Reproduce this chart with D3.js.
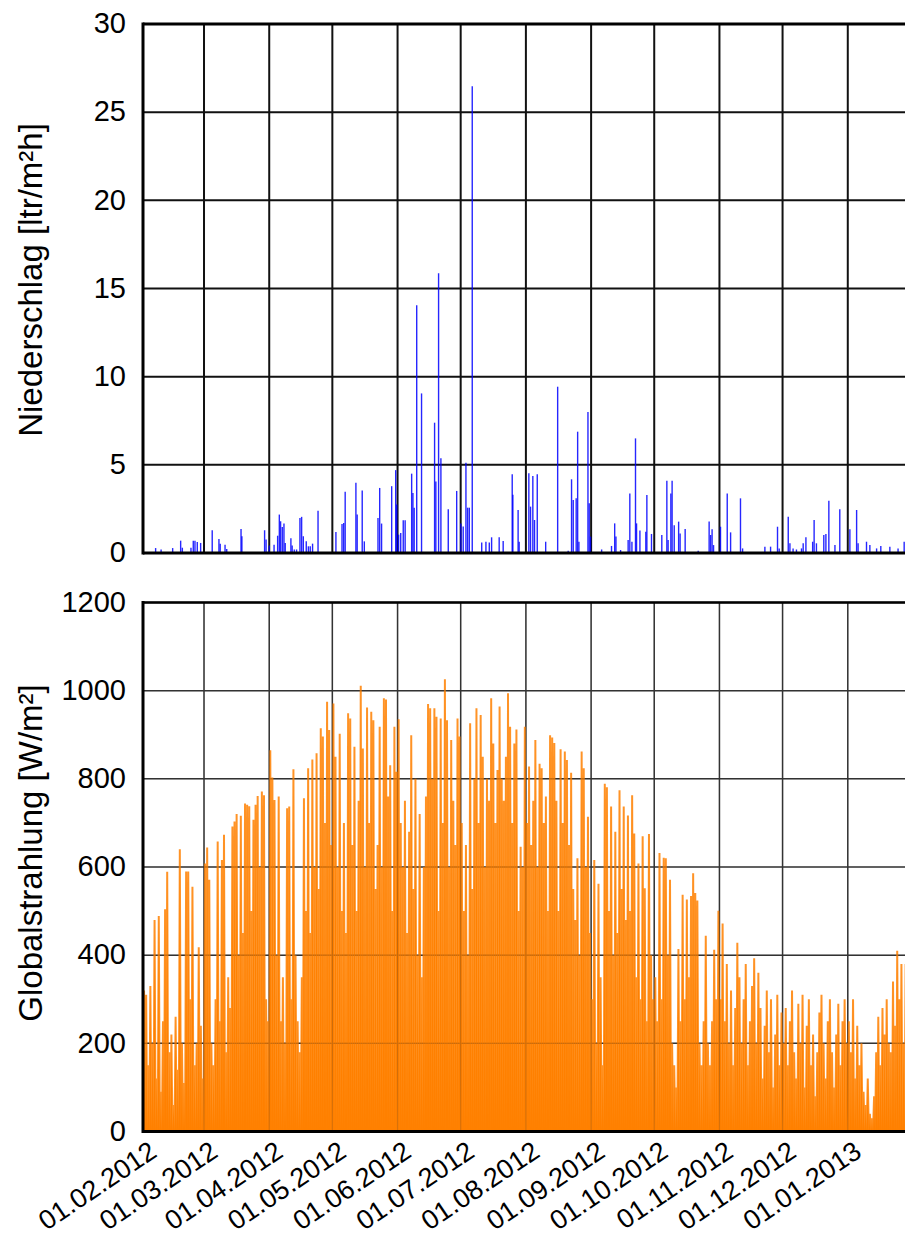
<!DOCTYPE html>
<meta charset="utf-8">
<style>
  body { margin: 0; background: #fff; }
  svg text { font-family: "Liberation Sans", Arial, sans-serif; fill: #000; }
</style>
<body>
<svg id="chart" width="905" height="1240"></svg>
<script src="https://d3js.org/d3.v7.min.js"></script>
<script>
// --- precipitation events: day offset from 01.02.2012, value in ltr/m²h
const precipDay = [6.0, 8.6, 14.1, 17.9, 18.7, 22.8, 23.9, 24.7, 25.8, 27.4, 32.9, 36.1, 36.7, 39.0, 39.8,
  46.6, 47.0, 57.8, 58.5, 60.0, 62.3, 64.0, 64.8, 65.4, 66.2, 67.0, 67.6, 70.3, 70.9, 71.9, 73.0,
  74.6, 75.4, 76.2, 77.6, 78.6, 79.5, 80.6, 83.2, 91.7, 94.6, 95.4, 96.1, 101.2, 101.8, 104.2, 105.2,
  111.7, 112.5, 113.4, 118.2, 120.1, 120.6, 121.5, 122.5, 123.7, 124.6, 127.7, 128.3, 128.9, 130.1,
  132.4, 138.6, 139.2, 140.5, 141.6, 145.1, 149.1, 151.1, 152.2, 153.5, 154.3, 155.1, 156.5, 161.0,
  163.0, 164.6, 165.7, 169.3, 171.2, 175.5, 175.8, 178.3, 178.8, 183.4, 184.2, 185.3, 186.1, 187.4,
  191.4, 197.1, 202.1, 203.7, 204.5, 205.9, 206.6, 207.2, 211.5, 212.1, 212.7, 218.0, 222.7, 224.2,
  224.8, 227.0, 230.6, 231.4, 232.4, 234.1, 234.6, 236.2, 239.0, 239.5, 241.7, 246.6, 249.0, 249.6,
  250.9, 251.5, 252.5, 254.6, 255.3, 257.7, 263.9, 269.1, 269.8, 270.5, 271.2, 274.5, 277.7, 279.3,
  284.0, 285.0, 295.6, 298.3, 301.6, 302.4, 306.7, 307.5, 309.0, 310.6, 313.0, 313.8, 315.1, 318.3,
  319.0, 320.1, 323.6, 324.6, 326.0, 328.9, 331.2, 336.0, 339.2, 339.9, 343.9, 345.5, 348.7, 350.7,
  355.0, 358.9, 361.8];
const precipValue = [0.28, 0.2, 0.28, 0.7, 0.3, 0.3, 0.7, 0.7, 0.62, 0.57, 1.29, 0.8, 0.53, 0.47, 0.23,
  1.36, 0.95, 1.29, 0.76, 0.42, 0.47, 0.98, 2.18, 1.8, 1.48, 1.67, 0.57, 0.83, 0.42, 0.2, 0.2,
  1.99, 2.05, 0.95, 0.66, 0.38, 0.38, 0.53, 2.39, 1.19, 1.65, 1.7, 3.47, 3.98, 2.18, 3.54, 0.66,
  1.99, 3.69, 1.67, 3.79, 4.7, 2.75, 1.04, 1.14, 1.86, 1.86, 4.5, 3.4, 2.56, 14.05,
  9.05, 7.39, 4.05, 15.87, 5.37, 2.48, 3.52, 1.68, 1.5, 5.12, 2.57, 2.57, 26.47, 0.59,
  0.64, 0.59, 0.89, 0.89, 0.68, 4.46, 3.3, 2.44, 0.64, 4.52, 2.63, 4.37, 1.87, 4.46,
  0.64, 9.43, 0.13, 4.18, 3.0, 3.1, 6.88, 0.64, 8.0, 2.82, 0.93, 0.2, 0.4, 1.68,
  0.93, 0.17, 0.74, 3.38, 0.64, 6.5, 1.68, 1.27, 1.21, 3.29, 1.08, 1.02, 4.1, 0.74,
  3.38, 4.1, 1.57, 1.78, 1.1, 1.36, 0.13, 1.78, 1.02, 1.34, 0.45, 1.49, 3.38, 1.17,
  3.1, 0.26, 0.36, 0.36, 1.49, 0.26, 2.06, 0.55, 0.26, 0.2, 0.26, 0.55, 0.89, 0.64,
  1.87, 0.55, 1.02, 1.08, 2.97, 0.45, 2.48, 1.34, 2.44, 0.55, 0.64, 0.45, 0.26, 0.4,
  0.36, 0.26, 0.64];

// --- daily peak of global radiation (W/m²), one value per day, by month
const radFeb = [320, 310, 150, 330, 200, 480, 120, 489, 90, 250, 504, 589, 180, 220, 60, 260, 140, 640, 200, 110,
  590, 590, 300, 555, 150, 200, 418, 240, 120];
const radMar = [608, 644, 571, 200, 150, 300, 658, 250, 616, 673, 180, 350, 280, 692, 703, 720, 400, 716, 450, 744,
  741, 738, 500, 707, 741, 761, 600, 771, 763, 300, 250];
const radApr = [865, 803, 752, 400, 760, 250, 350, 200, 733, 737, 300, 822, 400, 250, 180, 350, 756, 500, 824, 450,
  844, 600, 858, 550, 915, 896, 700, 975, 911, 650];
const radMay = [971, 850, 600, 902, 500, 700, 450, 949, 937, 650, 873, 500, 750, 1011, 869, 600, 962, 700, 952, 933,
  550, 650, 918, 600, 983, 980, 760, 831, 500, 918, 816];
const radJun = [935, 700, 600, 750, 450, 680, 899, 550, 800, 400, 720, 350, 600, 760, 970, 960, 800, 960, 941, 500,
  937, 700, 1026, 933, 600, 888, 750, 650, 937, 896];
const radJul = [700, 500, 650, 400, 926, 550, 800, 960, 700, 945, 850, 600, 800, 750, 983, 880, 700, 820, 964, 800,
  750, 850, 994, 918, 700, 880, 912, 500, 646, 600, 918];
const radAug = [700, 828, 650, 750, 888, 600, 834, 824, 700, 760, 500, 899, 894, 881, 750, 500, 867, 700, 862, 843,
  650, 814, 550, 480, 620, 400, 862, 824, 600, 714, 450];
const radSep = [300, 616, 200, 562, 350, 150, 789, 781, 500, 737, 400, 680, 450, 774, 550, 737, 480, 717, 500, 763,
  676, 350, 608, 300, 670, 552, 250, 675, 400, 300];
const radOct = [350, 250, 632, 300, 621, 620, 400, 571, 200, 150, 100, 414, 250, 537, 300, 526, 350, 534, 586, 541,
  524, 200, 150, 250, 444, 200, 150, 250, 412, 300, 501];
const radNov = [300, 472, 250, 380, 200, 320, 150, 280, 428, 350, 200, 300, 380, 150, 250, 330, 393, 200, 360, 280,
  120, 240, 320, 180, 300, 100, 220, 310, 150, 270];
const radDec = [200, 280, 150, 250, 320, 180, 120, 290, 200, 310, 100, 240, 300, 150, 220, 80, 180, 270, 310, 200,
  120, 250, 300, 180, 100, 220, 290, 150, 250, 300, 200];
const radJan = [250, 180, 300, 120, 240, 150, 200, 90, 60, 120, 40, 30, 80, 180, 260, 150, 280, 220, 300, 200,
  180, 340, 240, 410, 300, 380, 200, 380, 250, 300, 200];

const precipTicks = [0, 5, 10, 15, 20, 25, 30];
const radTicks = [0, 200, 400, 600, 800, 1000, 1200];

const DAY = 86400000;
const start = Date.UTC(2012, 1, 1);
const end = Date.UTC(2013, 1, 1);
const monthTicks = d3.utcMonth.range(new Date(start), new Date(end));

const svg = d3.select("#chart");
const left = 143, right = 913;
const x = d3.scaleUtc().domain([start, end]).range([left, right]);

const yP = d3.scaleLinear().domain([0, 30]).range([553, 24]);
const yR = d3.scaleLinear().domain([0, 1200]).range([1131.5, 602.5]);

const defs = svg.append("defs");
defs.append("clipPath").attr("id", "clipTop")
  .append("rect").attr("x", left).attr("y", yP(30)).attr("width", right - left).attr("height", yP(0) - yP(30));
defs.append("clipPath").attr("id", "clipBot")
  .append("rect").attr("x", left).attr("y", yR(1200)).attr("width", right - left).attr("height", yR(0) - yR(1200));

function grid(y, ticks, width, color, opacity = 1) {
  const g = svg.append("g").attr("opacity", opacity);
  g.selectAll("line.v").data(monthTicks).join("line")
    .attr("x1", d => x(d)).attr("x2", d => x(d))
    .attr("y1", y.range()[0]).attr("y2", y.range()[1])
    .attr("stroke", color).attr("stroke-width", width);
  g.selectAll("line.h").data(ticks).join("line")
    .attr("x1", left).attr("x2", right)
    .attr("y1", d => y(d)).attr("y2", d => y(d))
    .attr("stroke", color).attr("stroke-width", width);
}

function frame(y, topW) {
  const [y0, y1] = y.range();
  svg.append("line").attr("x1", left).attr("x2", right).attr("y1", y1).attr("y2", y1)
    .attr("stroke", "#000").attr("stroke-width", topW);
  svg.append("line").attr("x1", left).attr("x2", right).attr("y1", y0).attr("y2", y0)
    .attr("stroke", "#000").attr("stroke-width", 3);
  svg.append("line").attr("x1", left).attr("x2", left).attr("y1", y1 - 1.5).attr("y2", y0 + 1.5)
    .attr("stroke", "#000").attr("stroke-width", 3);
}

function yAxis(y, ticks) {
  const g = svg.append("g").attr("transform", `translate(${left},0)`)
    .call(d3.axisLeft(y).tickValues(ticks).tickSize(0).tickPadding(17).tickFormat(d3.format("d")));
  g.select(".domain").remove();
  g.selectAll("text").style("font-size", "29px").attr("dy", "0.3em")
    .style("font-family", '"Liberation Sans", Arial, sans-serif');
}

// ---- top panel: precipitation
grid(yP, precipTicks, 2, "#111");
const precip = precipDay.map((d, i) => ({ t: start + d * DAY, v: precipValue[i] }));
svg.append("g").attr("clip-path", "url(#clipTop)")
  .selectAll("line").data(precip).join("line")
  .attr("x1", d => x(d.t)).attr("x2", d => x(d.t))
  .attr("y1", yP(0)).attr("y2", d => yP(d.v))
  .attr("stroke", "#0000ff").attr("stroke-width", 1.4).attr("stroke-opacity", 0.85);
frame(yP, 3);
yAxis(yP, precipTicks);

// ---- bottom panel: global radiation
grid(yR, radTicks, 1.5, "#333");
const radPeaks = [].concat(radFeb, radMar, radApr, radMay, radJun, radJul, radAug, radSep, radOct, radNov, radDec, radJan);
const radPts = [];
radPeaks.forEach((p, i) => {
  radPts.push({ t: start + i * DAY, v: 0 });
  radPts.push({ t: start + (i + 0.5) * DAY, v: p });
});
radPts.push({ t: start + radPeaks.length * DAY, v: 0 });

const gR = svg.append("g").attr("clip-path", "url(#clipBot)");
gR.append("path").datum(radPts)
  .attr("d", d3.area().x(d => x(d.t)).y0(yR(0)).y1(d => yR(d.v)))
  .attr("fill", "#ff8000");
gR.append("path").datum(radPts)
  .attr("d", d3.line().x(d => x(d.t)).y(d => yR(d.v)))
  .attr("fill", "none").attr("stroke", "#ff8000").attr("stroke-width", 2)
  .attr("stroke-opacity", 0.85).attr("stroke-linejoin", "bevel");
// grid faintly visible through the dense orange
grid(yR, radTicks, 1.2, "#333", 0.18);
frame(yR, 2.5);
yAxis(yR, radTicks);

// x axis labels (rotated)
const xa = svg.append("g").attr("transform", `translate(0,${yR(0)})`)
  .call(d3.axisBottom(x).tickValues(monthTicks).tickSize(0).tickFormat(d3.utcFormat("%d.%m.%Y")));
xa.select(".domain").remove();
xa.selectAll("text")
  .attr("x", 0).attr("y", 0).attr("dy", 0)
  .attr("text-anchor", "end")
  .attr("transform", "translate(15,24) rotate(-34)")
  .style("font-size", "27px")
  .style("font-family", '"Liberation Sans", Arial, sans-serif');

// axis titles
svg.append("text").attr("transform", "translate(42,280) rotate(-90)")
  .attr("text-anchor", "middle").style("font-size", "33px").text("Niederschlag [ltr/m²h]");
svg.append("text").attr("transform", "translate(42,853) rotate(-90)")
  .attr("text-anchor", "middle").style("font-size", "33px").text("Globalstrahlung [W/m²]");
</script>
</body>
